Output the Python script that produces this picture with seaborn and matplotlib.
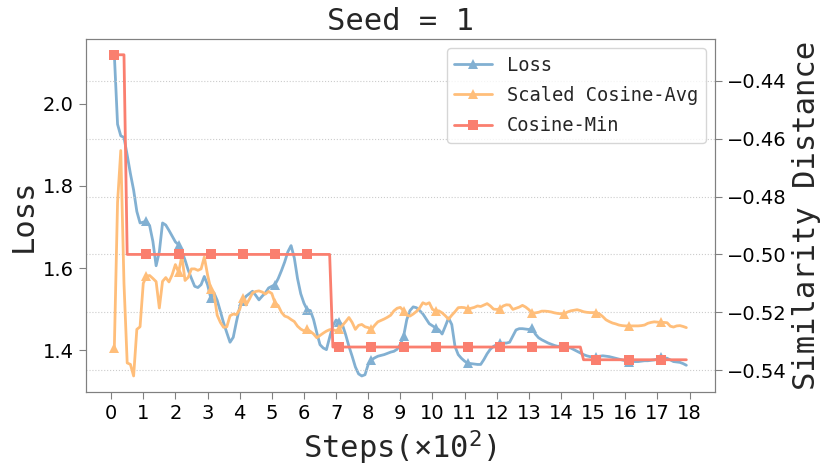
import numpy as np
import pandas as pd
import matplotlib
matplotlib.use("Agg")
import matplotlib.pyplot as plt
import seaborn as sns

# steps in units of 100, logged every 10 steps
steps = [round(0.1 * i, 1) for i in range(1, 180)]

loss = [
    2.119, 1.950, 1.922, 1.918, 1.875, 1.830, 1.790, 1.738, 1.710, 1.712,
    1.714, 1.703, 1.665, 1.606, 1.640, 1.710, 1.705, 1.692, 1.678, 1.664,
    1.657, 1.641, 1.620, 1.595, 1.575, 1.556, 1.553, 1.560, 1.580, 1.560,
    1.528, 1.540, 1.522, 1.495, 1.467, 1.443, 1.420, 1.432, 1.470, 1.505,
    1.520, 1.532, 1.538, 1.544, 1.534, 1.523, 1.532, 1.540, 1.552, 1.556,
    1.560, 1.575, 1.594, 1.615, 1.640, 1.655, 1.625, 1.575, 1.538, 1.515,
    1.499, 1.497, 1.475, 1.443, 1.414, 1.406, 1.402, 1.432, 1.460, 1.474,
    1.468, 1.462, 1.438, 1.410, 1.386, 1.360, 1.343, 1.338, 1.341, 1.366,
    1.377, 1.382, 1.386, 1.388, 1.390, 1.393, 1.396, 1.398, 1.403, 1.415,
    1.434, 1.475, 1.497, 1.506, 1.504, 1.497, 1.489, 1.477, 1.465, 1.460,
    1.455, 1.450, 1.440, 1.459, 1.479, 1.463, 1.410, 1.390, 1.381, 1.374,
    1.369, 1.368, 1.367, 1.366, 1.366, 1.378, 1.392, 1.403, 1.410, 1.414,
    1.417, 1.418, 1.418, 1.420, 1.435, 1.450, 1.453, 1.453, 1.452, 1.451,
    1.455, 1.440, 1.431, 1.426, 1.422, 1.418, 1.415, 1.412, 1.410, 1.411,
    1.409, 1.407, 1.406, 1.402, 1.398, 1.394, 1.390, 1.387, 1.385, 1.385,
    1.385, 1.386, 1.387, 1.386, 1.385, 1.383, 1.381, 1.379, 1.377, 1.375,
    1.373, 1.373, 1.373, 1.373, 1.374, 1.375, 1.375, 1.376, 1.377, 1.379,
    1.383, 1.382, 1.381, 1.377, 1.373, 1.372, 1.371, 1.368, 1.364,
]

cos_avg = [
    -0.5322, -0.4820, -0.4641, -0.5100, -0.5375, -0.5380, -0.5420, -0.5259, -0.5250, -0.5100,
    -0.5075, -0.5073, -0.5083, -0.5094, -0.5185, -0.5093, -0.5080, -0.5095, -0.5070, -0.5035,
    -0.5062, -0.5005, -0.5090, -0.5079, -0.5050, -0.5050, -0.5055, -0.5050, -0.5009, -0.5070,
    -0.5119, -0.5135, -0.5210, -0.5235, -0.5252, -0.5250, -0.5212, -0.5206, -0.5208, -0.5190,
    -0.5151, -0.5175, -0.5155, -0.5133, -0.5128, -0.5126, -0.5130, -0.5137, -0.5128, -0.5135,
    -0.5168, -0.5177, -0.5200, -0.5213, -0.5217, -0.5225, -0.5232, -0.5248, -0.5258, -0.5264,
    -0.5259, -0.5266, -0.5275, -0.5288, -0.5280, -0.5272, -0.5265, -0.5260, -0.5260, -0.5264,
    -0.5258, -0.5245, -0.5232, -0.5218, -0.5235, -0.5259, -0.5245, -0.5242, -0.5250, -0.5253,
    -0.5259, -0.5245, -0.5233, -0.5228, -0.5223, -0.5217, -0.5210, -0.5195, -0.5186, -0.5183,
    -0.5195, -0.5210, -0.5213, -0.5206, -0.5197, -0.5185, -0.5167, -0.5172, -0.5167, -0.5190,
    -0.5195, -0.5195, -0.5202, -0.5212, -0.5224, -0.5210, -0.5198, -0.5184, -0.5183, -0.5184,
    -0.5189, -0.5186, -0.5183, -0.5178, -0.5180, -0.5175, -0.5170, -0.5178, -0.5189, -0.5190,
    -0.5188, -0.5178, -0.5174, -0.5175, -0.5190, -0.5186, -0.5182, -0.5176, -0.5182, -0.5191,
    -0.5203, -0.5202, -0.5200, -0.5196, -0.5196, -0.5197, -0.5199, -0.5202, -0.5204, -0.5205,
    -0.5205, -0.5199, -0.5195, -0.5193, -0.5191, -0.5194, -0.5198, -0.5200, -0.5201, -0.5201,
    -0.5201, -0.5206, -0.5215, -0.5226, -0.5232, -0.5237, -0.5240, -0.5244, -0.5246, -0.5247,
    -0.5247, -0.5247, -0.5247, -0.5247, -0.5246, -0.5244, -0.5238, -0.5235, -0.5233, -0.5234,
    -0.5235, -0.5235, -0.5236, -0.5248, -0.5251, -0.5247, -0.5246, -0.5249, -0.5253,
]

# step-like minimum cosine distance
cos_min = [-0.431] * 4 + [-0.500] * 64 + [-0.532] * 78 + [-0.5364] * 33

df = pd.DataFrame({"step": steps, "loss": loss, "avg": cos_avg, "min": cos_min})

sns.set_style("ticks")
plt.rcParams["font.family"] = ["DejaVu Sans"]
plt.rcParams["axes.edgecolor"] = "#808080"
plt.rcParams["xtick.color"] = "#808080"
plt.rcParams["ytick.color"] = "#808080"
plt.rcParams["xtick.labelcolor"] = "black"
plt.rcParams["ytick.labelcolor"] = "black"

c_blue = "#82B0D2"
c_orange = "#FFBE7A"
c_red = "#FA7F6F"

fig = plt.figure(figsize=(8.3, 4.75), dpi=100)
ax = fig.add_axes([0.1033, 0.1747, 0.7581, 0.7438])
ax2 = ax.twinx()

sns.lineplot(data=df, x="step", y="loss", ax=ax, color=c_blue, lw=2,
             marker="^", markersize=6.5, markevery=10, markeredgewidth=0,
             label="Loss", legend=False)
sns.lineplot(data=df, x="step", y="avg", ax=ax2, color=c_orange, lw=2,
             marker="^", markersize=6.5, markevery=10, markeredgewidth=0,
             label="Scaled Cosine-Avg", legend=False)
sns.lineplot(data=df, x="step", y="min", ax=ax2, color=c_red, lw=2,
             marker="s", markersize=6.5, markevery=10, markeredgewidth=0,
             label="Cosine-Min", legend=False)

ax.set_xticks(range(0, 19))
ax.set_yticks([1.4, 1.6, 1.8, 2.0])
ax2.set_yticks([-0.54, -0.52, -0.50, -0.48, -0.46, -0.44])
ax.grid(False)
ax2.grid(True, axis="y", linestyle=":", color="#cccccc", lw=0.8)

for a in (ax, ax2):
    a.tick_params(labelsize=14, length=5)
    for s in a.spines.values():
        s.set_color("#808080")

mono = "DejaVu Sans Mono"
ax.set_xlabel("Steps(×10$^2$)", fontsize=22, family=mono)
ax.set_ylabel("Loss", fontsize=22, family=mono)
ax2.set_ylabel("Similarity Distance", fontsize=22, family=mono)
ax.set_title("Seed = 1", fontsize=22, family=mono)

h1, l1 = ax.get_legend_handles_labels()
h2, l2 = ax2.get_legend_handles_labels()
leg = ax2.legend(h1 + h2, l1 + l2, loc="upper right", labelspacing=0.6,
                 prop={"family": mono, "size": 13.5})

fig.savefig("out.png", dpi=100)
